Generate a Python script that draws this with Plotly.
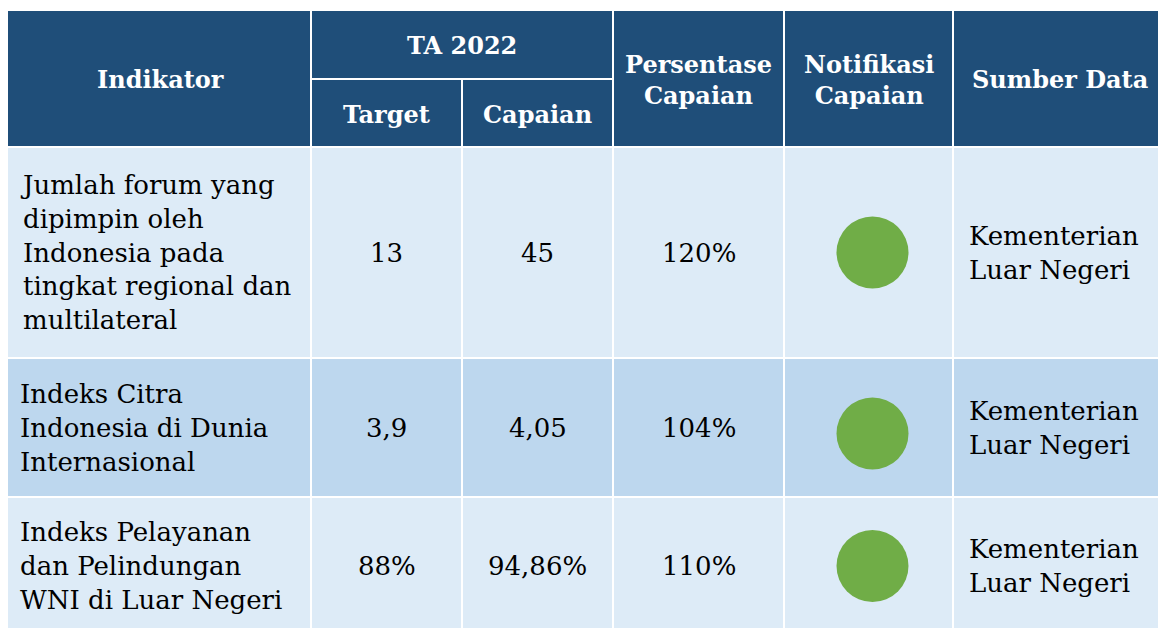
import plotly.graph_objects as go

# ---- data ----
header_top = ["Indikator", "TA 2022", "Persentase<br>Capaian", "Notifikasi<br>Capaian", "Sumber Data"]
header_sub = ["Target", "Capaian"]
indikator = [
    "Jumlah forum yang<br>dipimpin oleh<br>Indonesia pada<br>tingkat regional dan<br>multilateral",
    "Indeks Citra<br>Indonesia di Dunia<br>Internasional",
    "Indeks Pelayanan<br>dan Pelindungan<br>WNI di Luar Negeri",
]
target = ["13", "3,9", "88%"]
capaian = ["45", "4,05", "94,86%"]
persentase = ["120%", "104%", "110%"]
notifikasi = ["hijau", "hijau", "hijau"]
sumber = ["Kementerian<br>Luar Negeri"] * 3

# ---- layout geometry (page pixels; page body has an 8px margin) ----
W, H = 1166, 628
M = 8
col = [9, 311, 462, 613, 784, 953, 1170]
row = [12, 147, 358, 497, 632]
hsplit = 79
HEAD = "#1F4E79"
ROWC = ["#DDEBF7", "#BDD7EE", "#DDEBF7"]
GREEN = "#70AD47"
FONT = "DejaVu Serif"
FS = 26
FSH = 24

shapes = []
def cell(x0, x1, y0, y1, color):
    shapes.append(dict(type="rect", xref="x", yref="y", x0=x0 + 1, x1=x1 - 1,
                       y0=y0 + 1, y1=y1 - 1, fillcolor=color, line=dict(width=0), layer="below"))

# header cells
cell(col[0] - 2, col[1], row[0] - 2, row[1], HEAD)
cell(col[1], col[3], row[0] - 2, hsplit, HEAD)
cell(col[1], col[2], hsplit, row[1], HEAD)
cell(col[2], col[3], hsplit, row[1], HEAD)
for c in range(3, 6):
    cell(col[c], col[c + 1], row[0] - 2, row[1], HEAD)
# body cells
for r in range(3):
    for c in range(6):
        x0 = col[c] - (2 if c == 0 else 0)
        cell(x0, col[c + 1], row[r + 1], row[r + 2], ROWC[r])

ann = []
def text(x, y, t, color="black", bold=False, xanchor="center", align="center", size=FS):
    ann.append(dict(x=x, y=y, xref="x", yref="y", text=("<b>%s</b>" % t) if bold else t,
                    showarrow=False, xanchor=xanchor, yanchor="middle", align=align,
                    font=dict(family=FONT, size=size, color=color)))

hy = (row[0] + row[1]) / 2
text((col[0] + col[1]) / 2, hy, header_top[0], "white", True, size=FSH)
text((col[1] + col[3]) / 2, (row[0] + hsplit) / 2, header_top[1], "white", True, size=FSH)
text((col[1] + col[2]) / 2, (hsplit + row[1]) / 2 + 1, header_sub[0], "white", True, size=FSH)
text((col[2] + col[3]) / 2, (hsplit + row[1]) / 2 + 1, header_sub[1], "white", True, size=FSH)
text((col[3] + col[4]) / 2, hy, header_top[2], "white", True, size=FSH)
text((col[4] + col[5]) / 2, hy, header_top[3], "white", True, size=FSH)
text((col[5] + 1166) / 2, hy, header_top[4], "white", True, size=FSH)

circle_dy = [0, 6, 0]
cx, cy = [], []
for r in range(3):
    yc = (row[r + 1] + row[r + 2]) / 2
    if r == 2:
        yc = 566
    text(col[0] + 9, yc, indikator[r], xanchor="left", align="left")
    text((col[1] + col[2]) / 2, yc, target[r])
    text((col[2] + col[3]) / 2, yc, capaian[r])
    text((col[3] + col[4]) / 2, yc, persentase[r])
    text(col[5] + 14, yc, sumber[r], xanchor="left", align="left")
    cx.append((col[4] + col[5]) / 2 + 4)
    cy.append(yc + circle_dy[r])

fig = go.Figure()
fig.add_trace(go.Scatter(x=cx, y=cy, mode="markers", text=notifikasi, hoverinfo="text",
                         marker=dict(size=72, color=GREEN, line=dict(width=0)), showlegend=False))
fig.update_layout(width=W - M, height=H - M, margin=dict(l=0, r=0, t=0, b=0),
                  paper_bgcolor="white", plot_bgcolor="white",
                  xaxis=dict(range=[M, W], visible=False, fixedrange=True),
                  yaxis=dict(range=[H, M], visible=False, fixedrange=True),
                  shapes=shapes, annotations=ann)
fig.write_html("out.html")
